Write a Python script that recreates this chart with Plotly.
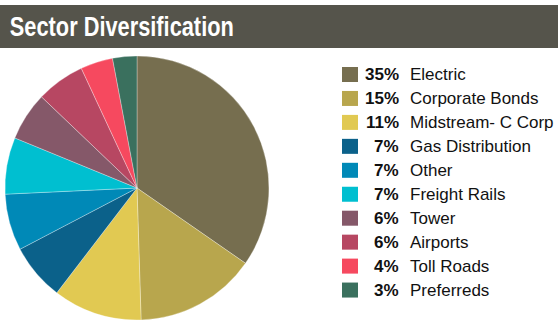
import plotly.graph_objects as go

W, H = 558, 325

title = "Sector Diversification"
sectors = ["Electric", "Corporate Bonds", "Midstream- C Corp", "Gas Distribution", "Other",
           "Freight Rails", "Tower", "Airports", "Toll Roads", "Preferreds"]
weights = [35, 15, 11, 7, 7, 7, 6, 6, 4, 3]
colors = ["#766E4F", "#B8A64D", "#E1C952", "#0B618A", "#0089B7",
          "#00BFD0", "#855869", "#B74762", "#F6495F", "#3A705E"]


def px(x):
    return x / W


def py(y):
    return 1 - y / H


fig = go.Figure()

cx, cy, r = 137, 188, 132
fig.add_trace(go.Pie(
    labels=sectors,
    values=weights,
    marker=dict(colors=colors, line=dict(color="rgba(255,255,255,0.6)", width=0.5)),
    sort=False,
    direction="clockwise",
    rotation=0,
    textinfo="none",
    hoverinfo="label+percent",
    showlegend=False,
    domain=dict(x=[px(cx - r), px(cx + r)], y=[py(cy + r), py(cy - r)]),
))

shapes = [dict(type="rect", xref="paper", yref="paper",
               x0=0, x1=1, y0=py(48), y1=py(5),
               fillcolor="#55544B", line=dict(width=0), layer="below")]
# title centred on the reference text span (x 10..234)
annotations = [dict(text=title, xref="paper", yref="paper", x=px(122), y=py(27),
                    xanchor="center", yanchor="middle", showarrow=False,
                    font=dict(family="Liberation Sans Narrow, Arial Narrow, Liberation Sans, Arial",
                              size=27, color="white", weight="bold"))]

row0, dy = 74.5, 23.95
for i, (s, w, c) in enumerate(zip(sectors, weights, colors)):
    y = row0 + dy * i
    shapes.append(dict(type="rect", xref="paper", yref="paper",
                       x0=px(342), x1=px(358), y0=py(y + 7.5), y1=py(y - 7.5),
                       fillcolor=c, line=dict(width=0)))
    annotations.append(dict(text=f"<b>{w}%</b>", xref="paper", yref="paper",
                            x=px(401), y=py(y), xanchor="right", yanchor="middle",
                            showarrow=False,
                            font=dict(family="Liberation Sans, Arial", size=17, color="#111")))
    annotations.append(dict(text=s, xref="paper", yref="paper",
                            x=px(408), y=py(y), xanchor="left", yanchor="middle",
                            showarrow=False,
                            font=dict(family="Liberation Sans, Arial", size=17, color="#111")))

fig.update_layout(width=W, height=H, margin=dict(l=0, r=0, t=0, b=0),
                  paper_bgcolor="white", plot_bgcolor="white",
                  shapes=shapes, annotations=annotations)

# Condense the title glyphs (no narrow font installed) to the reference width.
post = """
var gd = document.getElementById('{plot_id}');
function squeeze() {
  var t = gd.querySelector('.annotation .annotation-text');
  if (t && t.getComputedTextLength() > 224) {
    t.setAttribute('textLength', '224');
    t.setAttribute('lengthAdjust', 'spacingAndGlyphs');
  }
}
squeeze();
gd.on('plotly_afterplot', squeeze);
"""

fig.write_html("out.html", config=dict(displayModeBar=False), post_script=post)
